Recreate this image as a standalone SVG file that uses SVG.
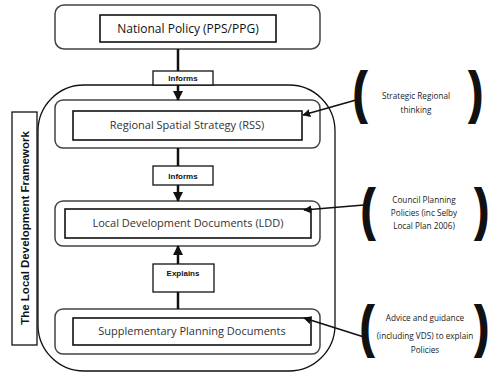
<svg xmlns="http://www.w3.org/2000/svg" width="491" height="373" viewBox="0 0 491 373">
<style>
.outer{fill:#fff;stroke:#444;stroke-width:1.5}
.inner{fill:#fff;stroke:#111;stroke-width:1.6}
.lbl{fill:#fff;stroke:#111;stroke-width:1.3}
.t{font-family:"Open Sans","Liberation Sans",sans-serif;font-size:11px;fill:#333;text-anchor:middle}
.s{font-family:"Liberation Sans",sans-serif;font-size:8px;font-weight:bold;fill:#111;text-anchor:middle}
.n{font-family:"Open Sans","Liberation Sans",sans-serif;font-size:8.2px;fill:#222;text-anchor:middle}
.p{font-family:"Liberation Sans",sans-serif;font-size:40px;font-weight:bold;fill:#111;stroke:#111;stroke-width:1.6;text-anchor:middle}
.c{stroke:#111;stroke-width:2.5;fill:none}
.c2{stroke:#111;stroke-width:1.6;fill:none}
</style>
<defs>
<marker id="ah" viewBox="0 0 10 10" refX="9" refY="5" markerWidth="4" markerHeight="4" orient="auto" markerUnits="strokeWidth"><path d="M0,0 L10,5 L0,10 z" fill="#111"/></marker>
<marker id="ah2" viewBox="0 0 10 10" refX="9" refY="5" markerWidth="5" markerHeight="5" orient="auto" markerUnits="strokeWidth"><path d="M0,0 L10,5 L0,10 z" fill="#111"/></marker>
</defs>
<g id="frame">
<rect x="38" y="85" width="297" height="286" rx="46" ry="46" fill="none" stroke="#111" stroke-width="1.3"/>
</g>
<g id="national">
<rect class="outer" x="55" y="5" width="265" height="44" rx="9"/>
<rect class="inner" x="100" y="15" width="176" height="27"/>
<text class="t" x="188" y="32.5" style="font-size:12px;fill:#111">National Policy (PPS/PPG)</text>
</g>
<g id="ldf-label">
<rect class="lbl" x="12" y="112" width="25" height="233"/>
<text class="s" transform="translate(29,228) rotate(-90)" style="font-size:11.5px">The Local Development Framework</text>
</g>
<g id="rss">
<rect class="outer" x="55" y="100" width="265" height="48" rx="8"/>
<rect class="inner" x="73" y="111" width="229" height="29"/>
<text class="t" x="187" y="129">Regional Spatial Strategy (RSS)</text>
</g>
<g id="ldd">
<rect class="outer" x="55" y="201" width="265" height="45" rx="8"/>
<rect class="inner" x="65" y="209" width="246" height="29"/>
<text class="t" x="188" y="227">Local Development Documents (LDD)</text>
</g>
<g id="spd">
<rect class="outer" x="55" y="309" width="265" height="45" rx="8"/>
<rect class="inner" x="73" y="318" width="238" height="27"/>
<text class="t" x="192" y="335">Supplementary Planning Documents</text>
</g>
<g id="connectors">
<line class="c" x1="178" y1="49" x2="178" y2="71"/>
<line class="c" x1="178" y1="85" x2="178" y2="100" marker-end="url(#ah)"/>
<line class="c" x1="178" y1="148" x2="178" y2="166"/>
<line class="c" x1="178" y1="185" x2="178" y2="201" marker-end="url(#ah)"/>
<line class="c" x1="178" y1="309" x2="178" y2="292"/>
<line class="c" x1="178" y1="264" x2="178" y2="246" marker-end="url(#ah)"/>
<line class="c2" x1="356" y1="100" x2="303" y2="115" marker-end="url(#ah2)"/>
<line class="c2" x1="364" y1="205" x2="304" y2="210" marker-end="url(#ah2)"/>
<line class="c2" x1="364" y1="337" x2="304" y2="318" marker-end="url(#ah2)"/>
</g>
<g id="informs1">
<rect class="lbl" x="153" y="71" width="60" height="14"/>
<text class="s" x="183" y="81">Informs</text>
</g>
<g id="informs2">
<rect class="lbl" x="153" y="166" width="60" height="19"/>
<text class="s" x="183" y="178.5">Informs</text>
</g>
<g id="explains">
<rect class="lbl" x="153" y="264" width="61" height="28"/>
<text class="s" x="183" y="276">Explains</text>
</g>
<g id="note-strategic">
<text class="p" transform="translate(360,111) scale(1,1.4)">(</text>
<text class="p" transform="translate(476,111) scale(1,1.4)">)</text>
<text class="n" x="416" y="99">Strategic Regional</text>
<text class="n" x="416" y="113">thinking</text>
</g>
<g id="note-council">
<text class="p" transform="translate(368,228) scale(1,1.4)">(</text>
<text class="p" transform="translate(482,228) scale(1,1.4)">)</text>
<text class="n" x="424" y="203">Council Planning</text>
<text class="n" x="424" y="216">Policies (inc Selby</text>
<text class="n" x="424" y="229">Local Plan 2006)</text>
</g>
<g id="note-advice">
<text class="p" transform="translate(367,345) scale(1,1.4)">(</text>
<text class="p" transform="translate(482,345) scale(1,1.4)">)</text>
<text class="n" x="425" y="321">Advice and guidance</text>
<text class="n" x="425" y="339">(including VDS) to explain</text>
<text class="n" x="425" y="353">Policies</text>
</g>
</svg>
